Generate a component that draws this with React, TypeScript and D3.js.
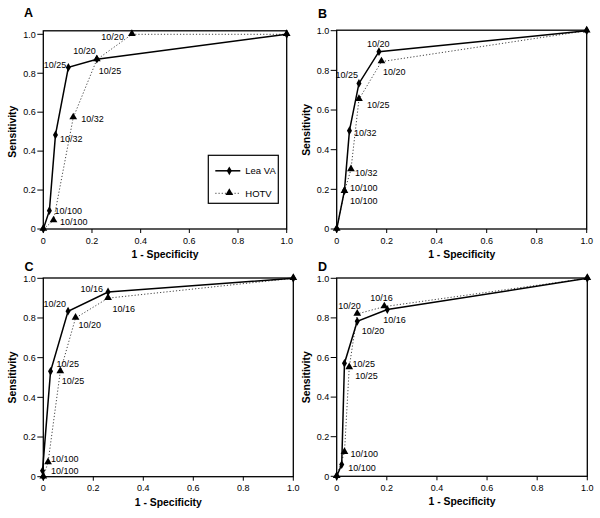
import * as d3 from "d3";

type Pt = { x: number; y: number; label: string };

// Lea VA (solid, diamonds) and HOTV (dotted, triangles) per panel
const leaA: Pt[] = [
  { x: 0, y: 0, label: "" },
  { x: 0.025, y: 0.094, label: "10/100" },
  { x: 0.05, y: 0.483, label: "10/32" },
  { x: 0.103, y: 0.83, label: "10/25" },
  { x: 0.22, y: 0.872, label: "10/20" },
  { x: 1, y: 1, label: "" },
];
const hotvA: Pt[] = [
  { x: 0, y: 0, label: "" },
  { x: 0.042, y: 0.043, label: "10/100" },
  { x: 0.123, y: 0.572, label: "10/32" },
  { x: 0.22, y: 0.87, label: "10/25" },
  { x: 0.364, y: 1.0, label: "10/20" },
  { x: 1, y: 1, label: "" },
];
const leaB: Pt[] = [
  { x: 0, y: 0, label: "" },
  { x: 0.031, y: 0.193, label: "10/100" },
  { x: 0.051, y: 0.496, label: "10/32" },
  { x: 0.089, y: 0.734, label: "10/25" },
  { x: 0.169, y: 0.894, label: "10/20" },
  { x: 1, y: 1, label: "" },
];
const hotvB: Pt[] = [
  { x: 0, y: 0, label: "" },
  { x: 0.031, y: 0.19, label: "10/100" },
  { x: 0.057, y: 0.3, label: "10/32" },
  { x: 0.089, y: 0.654, label: "10/25" },
  { x: 0.179, y: 0.844, label: "10/20" },
  { x: 1, y: 1, label: "" },
];
const leaC: Pt[] = [
  { x: 0, y: 0, label: "" },
  { x: -0.003, y: 0.03, label: "10/100" },
  { x: 0.029, y: 0.531, label: "10/25" },
  { x: 0.099, y: 0.834, label: "10/20" },
  { x: 0.259, y: 0.931, label: "10/16" },
  { x: 1, y: 1, label: "" },
];
const hotvC: Pt[] = [
  { x: 0, y: 0, label: "" },
  { x: 0.019, y: 0.072, label: "10/100" },
  { x: 0.068, y: 0.53, label: "10/25" },
  { x: 0.129, y: 0.8, label: "10/20" },
  { x: 0.259, y: 0.9, label: "10/16" },
  { x: 1, y: 1, label: "" },
];
const leaD: Pt[] = [
  { x: 0, y: 0, label: "" },
  { x: 0.02, y: 0.059, label: "10/100" },
  { x: 0.031, y: 0.571, label: "10/25" },
  { x: 0.082, y: 0.783, label: "10/20" },
  { x: 0.202, y: 0.842, label: "10/16" },
  { x: 1, y: 1, label: "" },
];
const hotvD: Pt[] = [
  { x: 0, y: 0, label: "" },
  { x: 0.031, y: 0.121, label: "10/100" },
  { x: 0.05, y: 0.55, label: "10/25" },
  { x: 0.082, y: 0.82, label: "10/20" },
  { x: 0.19, y: 0.857, label: "10/16" },
  { x: 1, y: 1, label: "" },
];

const ticks = [0, 0.2, 0.4, 0.6, 0.8, 1.0];
const tickLabels = ["0", "0.2", "0.4", "0.6", "0.8", "1.0"];

// label offsets (px) per point, [dx, dy, anchor]
type Off = [number, number, string];
const offLeaA: Off[] = [[0,0,"start"],[5,3.5,"start"],[4.5,7,"start"],[-2,1,"end"],[-1,-5,"end"],[0,0,"start"]];
const offHotvA: Off[] = [[0,0,"start"],[6.5,4.5,"start"],[8,4.5,"start"],[2,14,"start"],[-8,6,"end"],[0,0,"start"]];
const offLeaB: Off[] = [[0,0,"start"],[5.5,0.7,"start"],[4.5,5.5,"start"],[-1,-5,"end"],[-12,-5,"start"],[0,0,"start"]];
const offHotvB: Off[] = [[0,0,"start"],[5.5,12.5,"start"],[4,6.5,"start"],[8,8.7,"start"],[1.5,13,"start"],[0,0,"start"]];
const offLeaC: Off[] = [[0,0,"start"],[8.5,3,"start"],[6,-4,"start"],[-2,-4,"end"],[-5,0,"end"],[0,0,"start"]];
const offHotvC: Off[] = [[0,0,"start"],[3,0,"start"],[1.5,12.5,"start"],[3,10,"start"],[4.5,14,"start"],[0,0,"start"]];
const offLeaD: Off[] = [[0,0,"start"],[6.5,6.5,"start"],[8,3.8,"start"],[4.5,12.7,"start"],[-4,13,"start"],[0,0,"start"]];
const offHotvD: Off[] = [[0,0,"start"],[6,4.5,"start"],[6,12,"start"],[3.5,-5.4,"end"],[-14,-5.6,"start"],[0,0,"start"]];

const panels = [
  { letter: "A", letterX: 24, letterY: 17.3, left: 43.3, right: 286.7, top: 34.3, bottom: 229, frameTop: 30.8, lea: leaA, hotv: hotvA, offL: offLeaA, offH: offHotvA, legend: true },
  { letter: "B", letterX: 318, letterY: 17.5, left: 336.7, right: 586.7, top: 30.7, bottom: 229, frameTop: 30.2, lea: leaB, hotv: hotvB, offL: offLeaB, offH: offHotvB, legend: false },
  { letter: "C", letterX: 24.5, letterY: 271, left: 43.3, right: 293.3, top: 278.3, bottom: 476.7, frameTop: 278, lea: leaC, hotv: hotvC, offL: offLeaC, offH: offHotvC, legend: false },
  { letter: "D", letterX: 318, letterY: 271, left: 336.7, right: 587.3, top: 278.3, bottom: 476.3, frameTop: 278, lea: leaD, hotv: hotvD, offL: offLeaD, offH: offHotvD, legend: false },
];

const font = "Liberation Sans, Arial, sans-serif";
const diamond = d3.symbol(d3.symbolDiamond, 22)();
const triangle = d3.symbol(d3.symbolTriangle, 26)();

function Panel({ p }: { p: (typeof panels)[number] }) {
  const x = d3.scaleLinear([0, 1], [p.left, p.right]);
  const y = d3.scaleLinear([0, 1], [p.bottom, p.top]);
  const line = d3
    .line<Pt>()
    .x((d) => x(d.x))
    .y((d) => y(d.y));
  const midX = (p.left + p.right) / 2;
  const midY = (p.top + p.bottom) / 2;
  return (
    <g fontFamily={font}>
      <text x={p.letterX} y={p.letterY} fontSize={12.5} fontWeight="bold">
        {p.letter}
      </text>
      <rect
        x={p.left}
        y={p.frameTop}
        width={p.right - p.left}
        height={p.bottom - p.frameTop}
        fill="none"
        stroke="#000"
        strokeWidth={1.3}
      />
      {ticks.map((t, i) => (
        <g key={"y" + i}>
          <line x1={p.left - 6} x2={p.left} y1={y(t)} y2={y(t)} stroke="#000" />
          <text x={p.left - 7.5} y={y(t) + 3.3} fontSize={9} textAnchor="end">
            {tickLabels[i]}
          </text>
        </g>
      ))}
      {ticks.map((t, i) => (
        <g key={"x" + i}>
          <line x1={x(t)} x2={x(t)} y1={p.bottom} y2={p.bottom + 4} stroke="#000" />
          <text x={x(t)} y={p.bottom + 14.5} fontSize={9} textAnchor="middle">
            {tickLabels[i]}
          </text>
        </g>
      ))}
      <text
        transform={`translate(${p.left - 27},${midY}) rotate(-90)`}
        fontSize={10.4}
        fontWeight="bold"
        textAnchor="middle"
      >
        Sensitivity
      </text>
      <text x={midX} y={p.bottom + 29} fontSize={10.4} fontWeight="bold" textAnchor="middle">
        1 - Specificity
      </text>
      <path d={line(p.hotv) ?? ""} fill="none" stroke="#444" strokeWidth={1} strokeDasharray="1.2,2" />
      <path d={line(p.lea) ?? ""} fill="none" stroke="#000" strokeWidth={1.5} />
      {p.hotv.map((d, i) => (
        <path key={"ht" + i} d={triangle} transform={`translate(${x(d.x)},${y(d.y) - 0.5})`} fill="#000" />
      ))}
      {p.lea.map((d, i) => (
        <path key={"lm" + i} d={diamond} transform={`translate(${x(d.x)},${y(d.y)})`} fill="#000" />
      ))}
      {p.lea.map((d, i) =>
        d.label ? (
          <text key={"ll" + i} x={x(d.x) + p.offL[i][0]} y={y(d.y) + p.offL[i][1]} fontSize={9} textAnchor={p.offL[i][2]}>
            {d.label}
          </text>
        ) : null
      )}
      {p.hotv.map((d, i) =>
        d.label ? (
          <text key={"hl" + i} x={x(d.x) + p.offH[i][0]} y={y(d.y) + p.offH[i][1]} fontSize={9} textAnchor={p.offH[i][2]}>
            {d.label}
          </text>
        ) : null
      )}
      {p.legend && (
        <g transform={`translate(${p.left + 165},${p.top + 121})`}>
          <rect x={0} y={0} width={70} height={48} fill="#fff" stroke="#000" strokeWidth={1.2} />
          <line x1={7} x2={32} y1={15.5} y2={15.5} stroke="#000" strokeWidth={1.5} />
          <path d={diamond} transform="translate(21,15.5)" fill="#000" />
          <text x={37} y={19} fontSize={9.5}>Lea VA</text>
          <line x1={7} x2={32} y1={38} y2={38} stroke="#444" strokeWidth={1} strokeDasharray="1.2,2" />
          <path d={triangle} transform="translate(21,37.5)" fill="#000" />
          <text x={37} y={41.5} fontSize={9.5}>HOTV</text>
        </g>
      )}
    </g>
  );
}

export default function App() {
  return (
    <svg width={600} height={518} style={{ position: "absolute", left: 0, top: 0, background: "#fff" }}>
      <rect width={600} height={518} fill="#fff" />
      {panels.map((p) => (
        <Panel key={p.letter} p={p} />
      ))}
    </svg>
  );
}
